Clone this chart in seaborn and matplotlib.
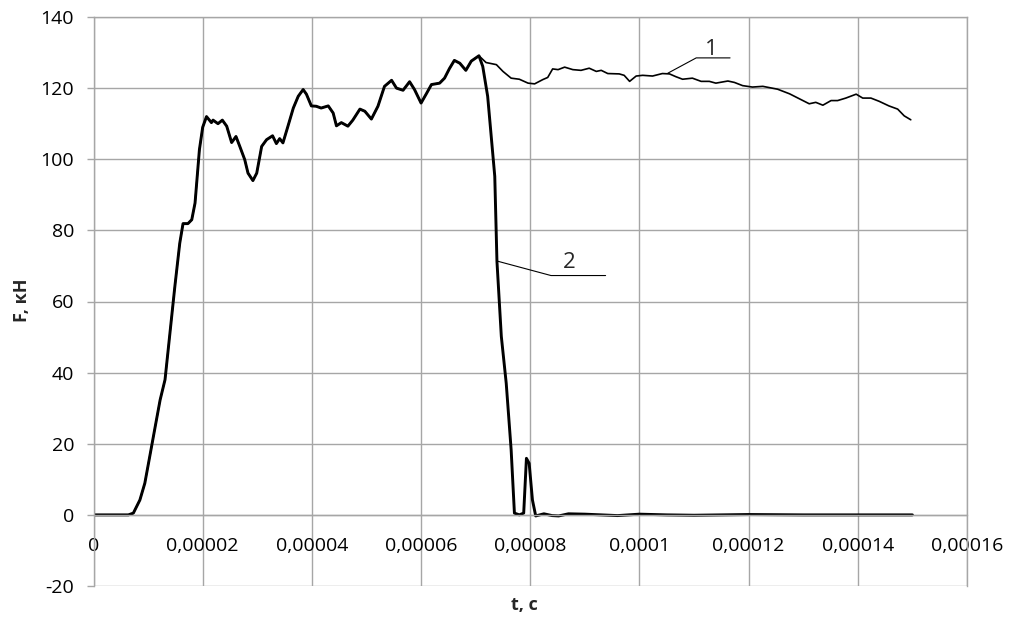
import numpy as np
import pandas as pd
import matplotlib
matplotlib.use("Agg")
import matplotlib.pyplot as plt
import seaborn as sns

sns.set_style("white")
plt.rcParams["font.family"] = ["Open Sans", "DejaVu Sans"]

# time in units of 1e-5 s, force in kN
t_common = [0, 0.64, 0.73, 0.85, 0.94, 1.03, 1.13, 1.22, 1.31, 1.40, 1.49, 1.58, 1.64, 1.73,
            1.80, 1.86, 1.94, 2.00, 2.07, 2.16, 2.19, 2.28, 2.36, 2.44, 2.53, 2.61, 2.68, 2.77,
            2.83, 2.92, 2.99, 3.08, 3.17, 3.28, 3.35, 3.41, 3.47, 3.56, 3.66, 3.75, 3.84, 3.90,
            3.99, 4.08, 4.17, 4.30, 4.39, 4.45, 4.54, 4.66, 4.75, 4.88, 4.97, 5.09, 5.21, 5.33,
            5.46, 5.55, 5.67, 5.79, 5.88, 6.00, 6.10, 6.19, 6.34, 6.43, 6.52, 6.61, 6.71, 6.82,
            6.92, 7.06]
F_common = [0, 0, 0.5, 4.2, 8.9, 16.4, 24.8, 32.3, 38, 51.1, 64.2, 76.4, 81.9, 81.9,
            83, 87.7, 102.7, 109, 112, 110.3, 111, 110, 111, 109.3, 104.7, 106.4, 103.6, 99.9,
            96.1, 94, 96.1, 103.6, 105.5, 106.6, 104.4, 105.8, 104.6, 109.2, 114.4, 117.7, 119.6, 118.3,
            115, 114.9, 114.4, 115, 113, 109.4, 110.3, 109.3, 111, 114.1, 113.5, 111.3, 114.9, 120.5,
            122.2, 120, 119.4, 121.8, 119.6, 115.8, 118.5, 121, 121.4, 122.8, 125.5, 127.8, 127, 125,
            127.6, 129.1]

t_tail1 = [7.19, 7.38, 7.50, 7.65, 7.80, 7.96, 8.08, 8.23, 8.32, 8.41, 8.51, 8.63, 8.78, 8.93,
           9.08, 9.21, 9.30, 9.42, 9.63, 9.72, 9.82, 9.94, 10.06, 10.24, 10.42, 10.55, 10.67, 10.79,
           10.97, 11.13, 11.28, 11.40, 11.62, 11.74, 11.89, 12.07, 12.26, 12.53, 12.75, 12.93, 13.11,
           13.23, 13.36, 13.51, 13.63, 13.78, 13.97, 14.09, 14.24, 14.39, 14.57, 14.73, 14.85, 14.97]
F_tail1 = [127.2, 126.6, 124.7, 122.8, 122.5, 121.4, 121.2, 122.4, 123, 125.4, 125.2, 125.9, 125.2, 125,
           125.6, 124.7, 125, 124.1, 124, 123.6, 121.9, 123.4, 123.6, 123.4, 124.1, 124, 123.2, 122.5,
           122.8, 121.9, 121.9, 121.4, 122, 121.6, 120.7, 120.3, 120.5, 119.7, 118.4, 117, 115.6,
           116, 115.2, 116.5, 116.5, 117.2, 118.3, 117.2, 117.2, 116.3, 115, 114.1, 112.2, 111.1]

t_tail2 = [7.13, 7.22, 7.35, 7.39, 7.47, 7.56, 7.65, 7.71, 7.80, 7.88, 7.93, 7.98, 8.04, 8.10,
           8.25, 8.40, 8.52, 8.70, 9.0, 9.3, 9.6, 10.0, 10.5, 11.0, 12.0, 13.0, 14.0, 15.0]
F_tail2 = [126.1, 117.7, 95.2, 71.3, 50.2, 37, 18.3, 0.5, 0, 0.5, 15.9, 14.5, 4.2, -0.3,
           0.3, -0.2, -0.3, 0.3, 0.2, 0, -0.2, 0.2, 0, -0.1, 0.1, 0, 0, 0]

x_ticks = [0, 2e-5, 4e-5, 6e-5, 8e-5, 1e-4, 1.2e-4, 1.4e-4, 1.6e-4]
x_tick_labels = ["0", "0,00002", "0,00004", "0,00006", "0,00008", "0,0001", "0,00012", "0,00014", "0,00016"]
y_ticks = [-20, 0, 20, 40, 60, 80, 100, 120, 140]
y_tick_labels = ["-20", "0", "20", "40", "60", "80", "100", "120", "140"]

df1 = pd.DataFrame({"t": np.array(t_common + t_tail1) * 1e-5, "F": F_common + F_tail1})
df2 = pd.DataFrame({"t": np.array(t_common + t_tail2) * 1e-5, "F": F_common + F_tail2})

fig = plt.figure(figsize=(10.13, 6.2), dpi=100)
ax = fig.add_axes([93.5 / 1013, 1 - 586 / 620, (967 - 93.5) / 1013, (586 - 17) / 620])

sns.lineplot(data=df1, x="t", y="F", sort=False, estimator=None, color="black", lw=1.2,
             solid_joinstyle="round", solid_capstyle="round", ax=ax)
sns.lineplot(data=df2, x="t", y="F", sort=False, estimator=None, color="black", lw=2.1,
             solid_joinstyle="round", solid_capstyle="round", ax=ax)

ax.set_xlim(0, 1.6e-4)
ax.set_ylim(-20, 140)
ax.set_xticks(x_ticks)
ax.set_xticklabels(x_tick_labels)
ax.set_yticks(y_ticks)
ax.set_yticklabels(y_tick_labels)
ax.set_xlabel("")
ax.set_ylabel("")

gc = "#a6a6a6"
ax.grid(True, color=gc, lw=1.0)
ax.set_axisbelow(True)
for s in ["top", "right", "left", "bottom"]:
    ax.spines[s].set_color(gc)
    ax.spines[s].set_linewidth(1.0)
ax.spines["bottom"].set_position(("data", 0))
ax.tick_params(axis="x", length=0, pad=16, labelsize=14, labelcolor="black")
ax.tick_params(axis="y", length=5, width=1, color=gc, pad=9, labelsize=14,
               labelcolor="black", direction="out", left=True)

fig.text(524 / 1013, 1 - 605 / 620, "t, с", ha="center", va="center",
         fontsize=13, fontweight="bold")
fig.text(22 / 1013, 1 - 300 / 620, "F, кН", ha="center", va="center",
         fontsize=13, fontweight="bold", rotation=90)

# leader lines and curve numbers
ax.plot([10.52e-5, 11.04e-5, 11.66e-5], [124.2, 128.5, 128.5], color="black", lw=0.8)
ax.text(11.31e-5, 131.0, "1", ha="center", va="center", fontsize=16)
ax.plot([7.41e-5, 8.38e-5, 9.38e-5], [71.3, 67.3, 67.3], color="black", lw=0.8)
ax.text(8.72e-5, 71.0, "2", ha="center", va="center", fontsize=16)

fig.savefig("out.png", dpi=100)
